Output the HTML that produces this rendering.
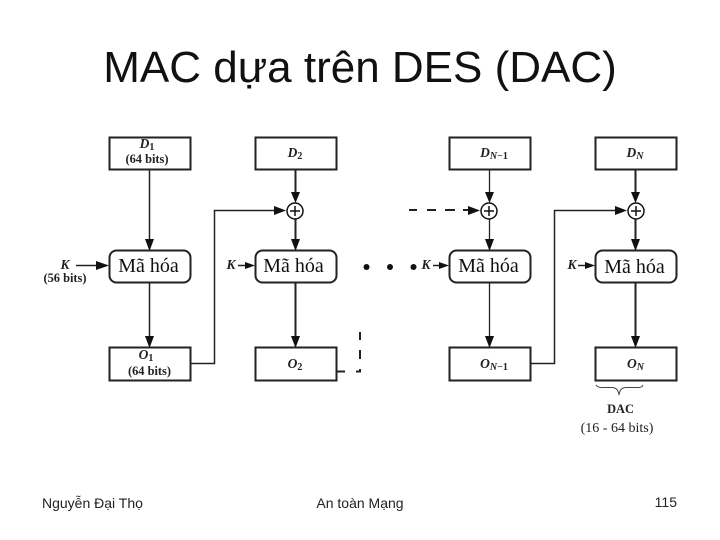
<!DOCTYPE html>
<html><head><meta charset="utf-8"><style>
html,body{margin:0;padding:0;background:#fff}
svg{display:block}
.b{font-family:"Liberation Serif",serif;font-weight:bold;fill:#222;font-size:12.4px;text-anchor:middle}
.i{font-family:"Liberation Serif",serif;font-weight:bold;font-style:italic;fill:#222;text-anchor:middle;font-size:13.5px}
.u{font-size:10px;font-style:normal}
.n{font-size:10px}
.m{font-family:"Liberation Serif",serif;font-size:20px;fill:#111;text-anchor:middle}
.f{font-family:"Liberation Sans",sans-serif;font-size:14px;fill:#222}
</style></head><body>
<svg width="720" height="540" viewBox="0 0 720 540" xmlns="http://www.w3.org/2000/svg">
<text x="360" y="82" text-anchor="middle" font-family="Liberation Sans" font-size="44" fill="#111">MAC dựa trên DES (DAC)</text>

<g fill="#fff" stroke="#222" stroke-width="2">
<rect x="109.500" y="137.500" width="81" height="32"/>
<rect x="255.500" y="137.500" width="81" height="32"/>
<rect x="449.500" y="137.500" width="81" height="32"/>
<rect x="595.500" y="137.500" width="81" height="32"/>
<rect x="109.500" y="250.500" width="81" height="32" rx="7"/>
<rect x="255.500" y="250.500" width="81" height="32" rx="7"/>
<rect x="449.500" y="250.500" width="81" height="32" rx="7"/>
<rect x="595.500" y="250.500" width="81" height="32" rx="7"/>
<rect x="109.500" y="347.500" width="81" height="33"/>
<rect x="255.500" y="347.500" width="81" height="33"/>
<rect x="449.500" y="347.500" width="81" height="33"/>
<rect x="595.500" y="347.500" width="81" height="33"/>
</g>

<g fill="none" stroke="#222" stroke-width="1.500">
<path d="M149.500 170V240M149.500 283V337"/>
<path d="M295.500 170V192M295.500 219V240M295.500 283V337" stroke-width="2"/>
<path d="M489.500 170V192M489.500 219V240M489.500 283V337" stroke-width="1.300"/>
<path d="M635.500 170V192M635.500 219V240M635.500 283V337" stroke-width="2"/>
<path d="M191 363.500H214.500V210.500H276"/>
<path d="M531 363.500H554.500V210.500H616"/>
<path d="M76 265.500H97M238 265.500H246M433 265.500H440M578 265.500H586"/>
<path d="M337 371.500H345M356 371.500H360V369M360 359V350M360 340V332" stroke-width="2"/>
<path d="M409 210H417M427 210H436M445 210H455M463 210H471" stroke-width="2"/>
</g>

<g fill="#111">
<path d="M145 239H154L149.500 251ZM291 192H300L295.500 203ZM291 239H300L295.500 251ZM485 192H494L489.500 203ZM485 239H494L489.500 251ZM631 192H640L635.500 203ZM631 239H640L635.500 251Z"/>
<path d="M145 336H154L149.500 348ZM291 336H300L295.500 348ZM485 336H494L489.500 348ZM631 336H640L635.500 348Z"/>
<path d="M274 206V215L286 210.500ZM468 206V215L480 210.500ZM615 206V215L627 210.500Z"/>
<path d="M96 261V270L109 265.500ZM245 262V269L255 265.500ZM439 262V269L449 265.500ZM585 262V269L595 265.500Z"/>
<circle cx="366.500" cy="267" r="3"/><circle cx="390" cy="267" r="3"/><circle cx="413.500" cy="267" r="3"/>
</g>

<g fill="#fff" stroke="#111" stroke-width="1.500">
<circle cx="295" cy="211" r="8"/><circle cx="489" cy="211" r="8"/><circle cx="636" cy="211" r="8"/>
</g>
<path d="M290 211H300M295 206V216M484 211H494M489 206V216M631 211H641M636 206V216" stroke="#111" stroke-width="1.500"/>

<text class="i" x="147" y="148">D<tspan class="u" dy="2">1</tspan></text>
<text class="b" x="147" y="163">(64 bits)</text>
<text class="i" x="295" y="157">D<tspan class="u" dy="2">2</tspan></text>
<text class="i" x="494" y="157">D<tspan class="n" dy="2">N</tspan><tspan class="u">−1</tspan></text>
<text class="i" x="635" y="157">D<tspan class="n" dy="2">N</tspan></text>

<text class="m" x="148.500" y="272">Mã hóa</text>
<text class="m" x="293.500" y="272">Mã hóa</text>
<text class="m" x="488.500" y="272">Mã hóa</text>
<text class="m" x="634.500" y="273">Mã hóa</text>

<text class="i" x="65" y="269">K</text>
<text class="b" x="65" y="282">(56 bits)</text>
<text class="i" x="231" y="269">K</text>
<text class="i" x="426" y="269">K</text>
<text class="i" x="572" y="269">K</text>

<text class="i" x="146" y="359">O<tspan class="u" dy="2">1</tspan></text>
<text class="b" x="149.500" y="375">(64 bits)</text>
<text class="i" x="295" y="368">O<tspan class="u" dy="2">2</tspan></text>
<text class="i" x="494" y="368">O<tspan class="n" dy="2">N</tspan><tspan class="u">−1</tspan></text>
<text class="i" x="635.500" y="368">O<tspan class="n" dy="2">N</tspan></text>

<path d="M596 385Q598 388 604 387.500H612Q618 387.500 619 395Q620 387.500 626 387.500H636Q642 388 643 385" fill="none" stroke="#444" stroke-width="1"/>
<text class="b" x="620.500" y="413">DAC</text>
<text x="617" y="432" text-anchor="middle" font-family="Liberation Serif" font-size="14" fill="#222">(16 - 64 bits)</text>

<text class="f" x="42" y="508">Nguyễn Đại Thọ</text>
<text class="f" x="360" y="508" text-anchor="middle">An toàn Mạng</text>
<text class="f" x="677" y="507" text-anchor="end">115</text>
</svg>
</body></html>
